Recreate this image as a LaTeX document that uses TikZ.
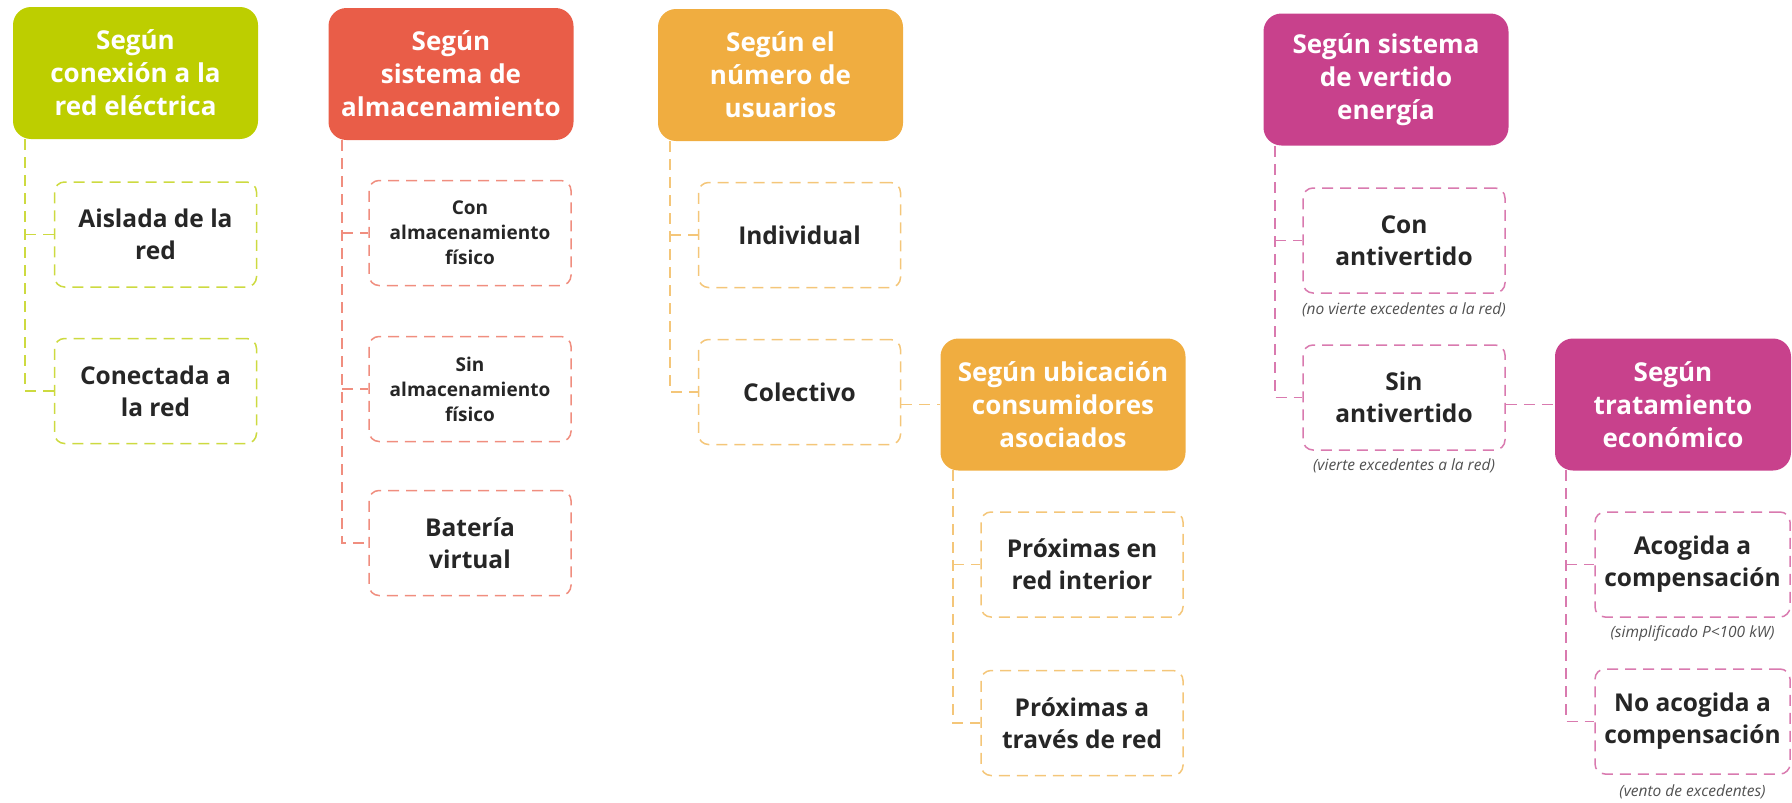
\documentclass[tikz,border=0pt]{standalone}
\usepackage{fontspec}
\setmainfont{Open Sans}
\definecolor{cgreen}{RGB}{189,206,0}
\definecolor{cred}{RGB}{233,93,72}
\definecolor{corange}{RGB}{240,173,64}
\definecolor{cmag}{RGB}{200,65,140}
\definecolor{ctxt}{RGB}{38,38,38}
\definecolor{cnote}{RGB}{80,80,80}
\tikzset{
  hdr/.style={rounded corners=18pt, minimum width=245pt, minimum height=132pt, inner sep=0pt,
    text=white, align=center, font=\fontsize{26}{33}\selectfont\bfseries},
  itembox/.style={draw=#1, line width=1.5pt, dash pattern=on 11pt off 7pt, rounded corners=10pt,
    minimum width=202pt, minimum height=105pt, inner sep=0pt, align=center, text=ctxt,
    font=\fontsize{24.5}{32}\selectfont\bfseries},
  smalltxt/.style={font=\fontsize{19}{25}\selectfont\bfseries},
  conn/.style={draw=#1, line width=1.5pt, dash pattern=on 11pt off 7pt},
  note/.style={font=\fontsize{15.5}{17}\selectfont\itshape, text=cnote, inner sep=0pt},
}
\begin{document}
\begin{tikzpicture}[x=1pt,y=-1pt]
\useasboundingbox (0,0) rectangle (1792,803);
% ---------- column 1 (green)
\node[hdr, fill=cgreen] (h1) at (135.5,73) {Según\\conexión a la\\red eléctrica};
\node[itembox=cgreen!75] (g1) at (155.5,234.5) {Aislada de la\\red};
\node[itembox=cgreen!75] (g2) at (155.5,391) {Conectada a\\la red};
\coordinate (t1) at (25,139);
\draw[conn=cgreen!75] (t1) |- (g2.west);
\draw[conn=cgreen!75] (t1 |- g1.west) -- (g1.west);
% ---------- column 2 (red)
\node[hdr, fill=cred] (h2) at (451,74) {Según\\sistema de\\almacenamiento};
\node[itembox=cred!70, smalltxt] (r1) at (470,233) {Con\\almacenamiento\\físico};
\node[itembox=cred!70, smalltxt] (r2) at (470,389) {Sin\\almacenamiento\\físico};
\node[itembox=cred!70] (r3) at (470,543) {Batería\\virtual};
\coordinate (t2) at (342,140);
\draw[conn=cred!70] (t2) |- (r3.west);
\draw[conn=cred!70] (t2 |- r1.west) -- (r1.west);
\draw[conn=cred!70] (t2 |- r2.west) -- (r2.west);
% ---------- column 3 (orange)
\node[hdr, fill=corange] (h3) at (780.5,75) {Según el\\número de\\usuarios};
\node[itembox=corange!70] (o1) at (799.5,235) {Individual};
\node[itembox=corange!70] (o2) at (799.5,392) {Colectivo};
\coordinate (t3) at (670,141);
\draw[conn=corange!70] (t3) |- (o2.west);
\draw[conn=corange!70] (t3 |- o1.west) -- (o1.west);
% ---------- column 3b (orange)
\node[hdr, fill=corange] (h4) at (1063,404.5) {Según ubicación\\consumidores\\asociados};
\draw[conn=corange!70] (o2.east |- h4.west) -- (h4.west);
\node[itembox=corange!70] (o3) at (1082,564.5) {Próximas en\\red interior};
\node[itembox=corange!70] (o4) at (1082,723) {Próximas a\\través de red};
\coordinate (t4) at (953,470);
\draw[conn=corange!70] (t4) |- (o4.west);
\draw[conn=corange!70] (t4 |- o3.west) -- (o3.west);
% ---------- column 4 (magenta)
\node[hdr, fill=cmag] (h5) at (1386,79.5) {Según sistema\\de vertido\\energía};
\node[itembox=cmag!70] (m1) at (1404,240.5) {Con\\antivertido};
\node[itembox=cmag!70] (m2) at (1404,397.5) {Sin\\antivertido};
\node[note] (n1) at (1404,310) {(no vierte excedentes a la red)};
\node[note] (n2) at (1404,466) {(vierte excedentes a la red)};
\coordinate (t5) at (1275,146);
\draw[conn=cmag!70] (t5) |- (m2.west);
\draw[conn=cmag!70] (t5 |- m1.west) -- (m1.west);
% ---------- column 4b (magenta)
\node[hdr, fill=cmag, minimum width=236pt] (h6) at (1673,404.5) {Según\\tratamiento\\económico};
\draw[conn=cmag!70] (m2.east |- h6.west) -- (h6.west);
\node[itembox=cmag!70, minimum width=195pt] (m3) at (1692.5,564.5) {Acogida a\\compensación};
\node[itembox=cmag!70, minimum width=195pt] (m4) at (1692.5,721.5) {No acogida a\\compensación};
\node[note] (n3) at (1692.5,633) {(simplificado P<100 kW)};
\node[note] (n4) at (1692.5,792) {(vento de excedentes)};
\coordinate (t6) at (1566,470);
\draw[conn=cmag!70] (t6) |- (m4.west);
\draw[conn=cmag!70] (t6 |- m3.west) -- (m3.west);
\end{tikzpicture}
\end{document}
